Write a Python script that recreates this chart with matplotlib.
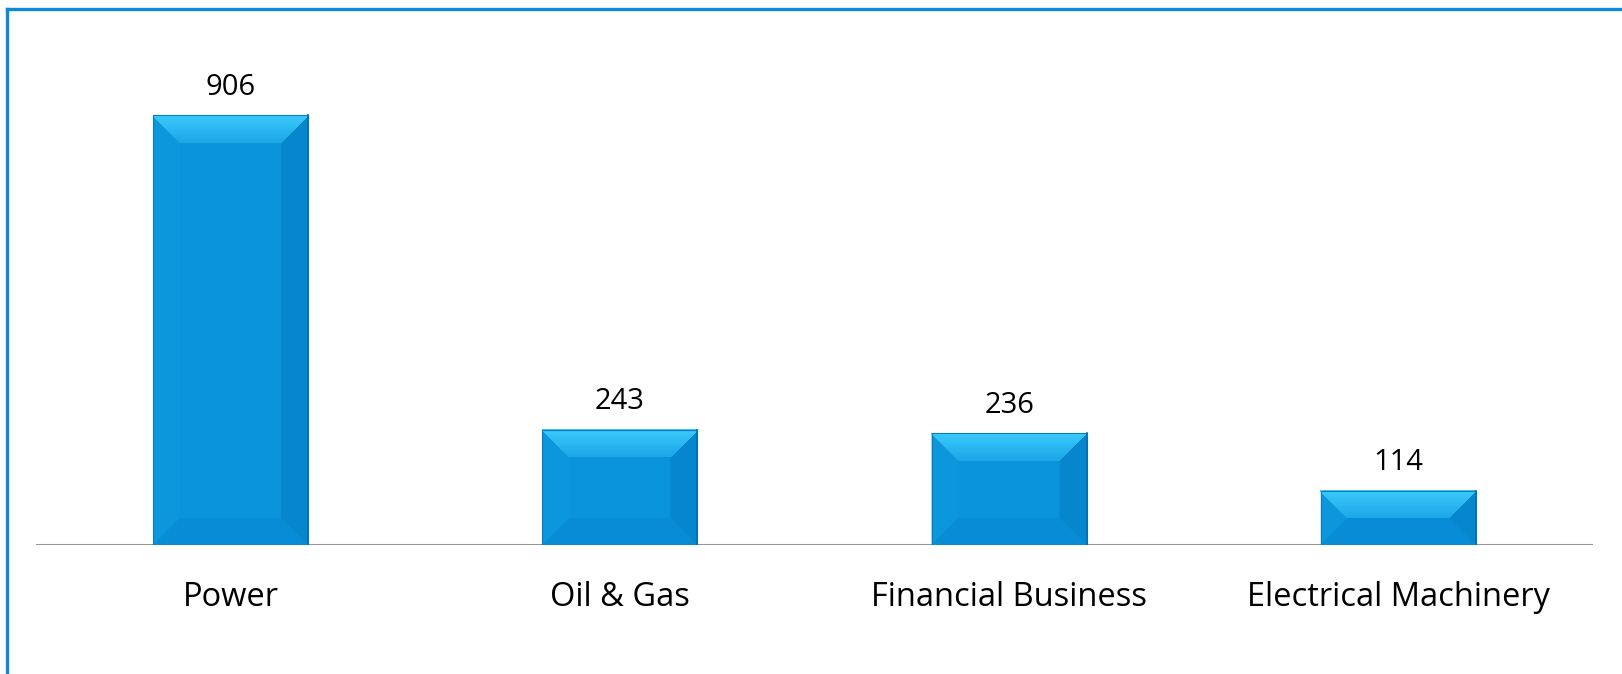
import matplotlib
matplotlib.use("Agg")
import matplotlib.pyplot as plt
from matplotlib.patches import Polygon, Rectangle
from matplotlib.lines import Line2D
import numpy as np
from matplotlib.colors import to_rgb

categories = ["Power", "Oil & Gas", "Financial Business", "Electrical Machinery"]
values = [906, 243, 236, 114]

W, H, DPI = 1622, 674, 100
fig = plt.figure(figsize=(W / DPI, H / DPI), dpi=DPI)
fig.patch.set_facecolor("white")

ax_left_px, ax_right_px = 36, 1593
ax_bottom_px, ax_top_px = 545, 45  # from top of image
ax = fig.add_axes([ax_left_px / W, (H - ax_bottom_px) / H,
                   (ax_right_px - ax_left_px) / W, (ax_bottom_px - ax_top_px) / H])
ax.set_xlim(-0.5, len(categories) - 0.5)
ax.set_ylim(0, 1054)
ax.axis("off")

dxpp = len(categories) / (ax_right_px - ax_left_px)
dypp = 1054 / (ax_bottom_px - ax_top_px)
bw = 155 * dxpp
bev_px = 27

def mix(c1, c2, t):
    a, b = np.array(to_rgb(c1)), np.array(to_rgb(c2))
    return tuple(a + (b - a) * t)

for i, v in enumerate(values):
    x0, x1 = i - bw / 2, i + bw / 2
    y1 = v
    bx = bev_px * dxpp
    by = min(bev_px * dypp, v / 2)
    ax.add_patch(Rectangle((x0, 0), bw, v, facecolor="#0893DB", edgecolor="none", zorder=2))
    ax.add_patch(Polygon([(x0, 0), (x0, y1), (x0 + bx, y1 - by), (x0 + bx, by)],
                         facecolor="#0C97DD", edgecolor="none", zorder=3))
    ax.add_patch(Polygon([(x1, 0), (x1, y1), (x1 - bx, y1 - by), (x1 - bx, by)],
                         facecolor="#0686CD", edgecolor="none", zorder=3))
    ax.add_patch(Polygon([(x0, 0), (x1, 0), (x1 - bx, by), (x0 + bx, by)],
                         facecolor="#078CD5", edgecolor="none", zorder=3))
    # top bevel as gradient strips
    n = 12
    for k in range(n):
        f0, f1 = k / n, (k + 1) / n
        ya, yb = y1 - by * f0, y1 - by * f1
        xa, xb = bx * f0, bx * f1
        ax.add_patch(Polygon([(x0 + xa, ya), (x1 - xa, ya), (x1 - xb, yb), (x0 + xb, yb)],
                             facecolor=mix("#3CCAFB", "#1CA6E7", (k + 0.5) / n),
                             edgecolor="none", zorder=4, antialiased=False))
    ax.add_patch(Rectangle((x0, 0), bw, v, facecolor="none", edgecolor="#0A7CBC",
                           linewidth=0.8, zorder=5))
    ax.plot([x1, x1], [0, y1], color="#056FAE", linewidth=1.2, zorder=6)
    ax.text(i, v + 28 * dypp, f"{v}", ha="center", va="center",
            fontsize=21, family="Open Sans", color="black")
    ax.text(i, -52 * dypp, categories[i], ha="center", va="center",
            fontsize=23.5, family="Open Sans", color="black", clip_on=False)

ax.axhline(0, color="#969696", linewidth=2.2, zorder=1)

# blue frame (top and left only visible)
fig.add_artist(Line2D([6.5 / W, 1], [1 - 8.5 / H, 1 - 8.5 / H], color="#0A8AD8",
                      linewidth=2.4, transform=fig.transFigure))
fig.add_artist(Line2D([6.5 / W, 6.5 / W], [0, 1 - 8.5 / H], color="#0A8AD8",
                      linewidth=2.4, transform=fig.transFigure))

fig.savefig("out.png", dpi=DPI, facecolor="white")
